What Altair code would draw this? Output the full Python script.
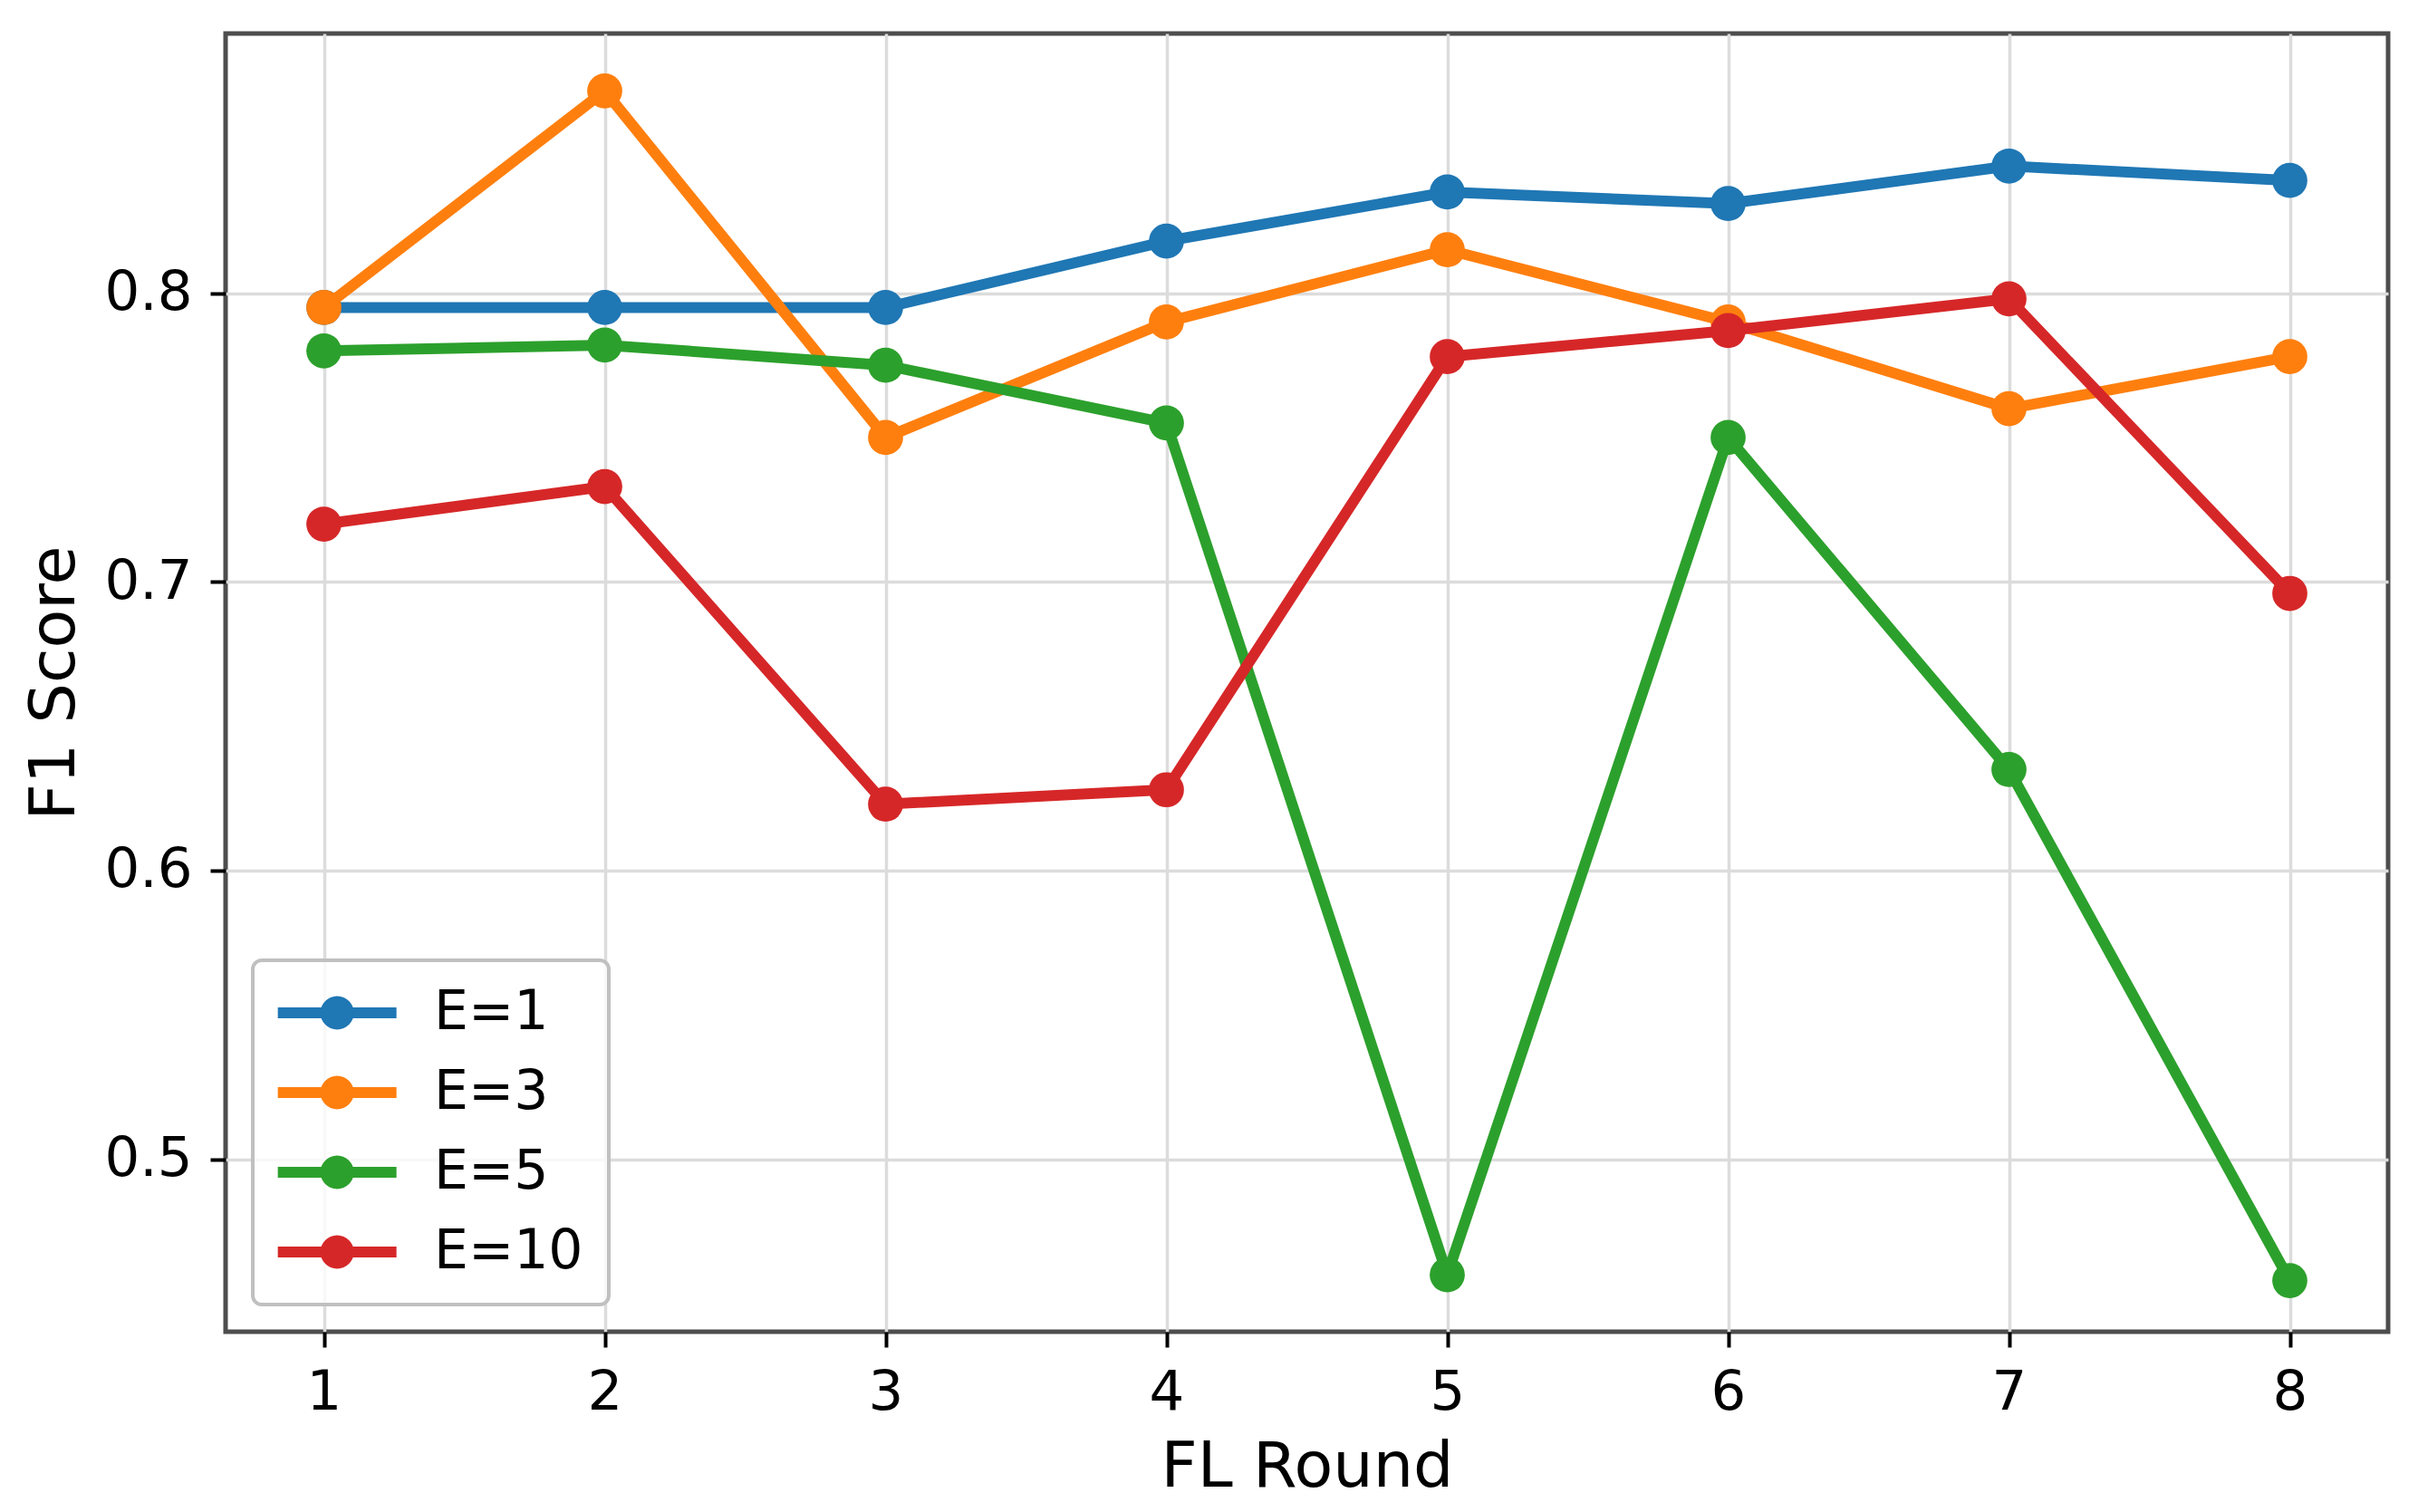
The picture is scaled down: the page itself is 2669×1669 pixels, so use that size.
import altair as alt
import pandas as pd

rounds = [1, 2, 3, 4, 5, 6, 7, 8]
series_names = ["E=1", "E=3", "E=5", "E=10"]
series_colors = ["#1f77b4", "#ff7f0e", "#2ca02c", "#d62728"]

f1_e1 = [0.795, 0.795, 0.795, 0.818, 0.835, 0.831, 0.844, 0.839]
f1_e3 = [0.795, 0.870, 0.750, 0.790, 0.815, 0.790, 0.760, 0.778]
f1_e5 = [0.780, 0.782, 0.775, 0.755, 0.460, 0.750, 0.635, 0.458]
f1_e10 = [0.720, 0.733, 0.623, 0.628, 0.778, 0.787, 0.798, 0.696]

y_ticks = [0.5, 0.6, 0.7, 0.8]

rows = []
for name, values in zip(series_names, [f1_e1, f1_e3, f1_e5, f1_e10]):
    for r, v in zip(rounds, values):
        rows.append({"round": r, "f1": v, "series": name})
df = pd.DataFrame(rows)

x_enc = alt.X("round:Q", title="FL Round",
              scale=alt.Scale(domain=[0.65, 8.35], nice=False, zero=False),
              axis=alt.Axis(values=rounds, format="d"))
y_enc = alt.Y("f1:Q", title="F1 Score",
              scale=alt.Scale(domain=[0.4403, 0.8899], nice=False, zero=False),
              axis=alt.Axis(values=y_ticks, format=".1f"))
color_scale = alt.Scale(domain=series_names, range=series_colors)

# line + marker symbol for the legend (unit = sqrt(size)/2), shifted right
legend_path = ("M-1.64,-0.33H5.44V0.33H-1.64Z "
               "M2.9,0A1,1 0 1,1 0.9,0A1,1 0 1,1 2.9,0Z")

legend = alt.Legend(title=None, orient="bottom-left", offset=30,
                    symbolType=legend_path, symbolSize=1369,
                    symbolStrokeWidth=0, symbolOpacity=1,
                    labelFontSize=60, labelOffset=112, labelLimit=600,
                    labelFont="DejaVu Sans", labelColor="black",
                    rowPadding=28, padding=28,
                    fillColor="rgba(255,255,255,0.8)",
                    strokeColor="#c0c0c0", cornerRadius=10)
color_enc = alt.Color("series:N", scale=color_scale, sort=series_names, legend=legend)

layers = []
for name in series_names:
    base = alt.Chart(df).transform_filter(alt.datum.series == name)
    line = base.mark_line(strokeWidth=12).encode(x=x_enc, y=y_enc, color=color_enc)
    pts = base.mark_point(filled=True, size=1500, opacity=1, shape="circle").encode(
        x=x_enc, y=y_enc, color=color_enc)
    layers += [line, pts]

chart = alt.layer(*layers).properties(
    width=2387, height=1433,
    autosize=alt.AutoSizeParams(type="none"),
    padding={"left": 241, "top": 29, "right": 24, "bottom": 191},
    background="white",
).configure_view(
    stroke="#4d4d4d", strokeWidth=5
).configure_axis(
    domain=False,
    grid=True, gridColor="#dcdcdc", gridWidth=3.5,
    ticks=True, tickColor="black", tickSize=17, tickWidth=4,
    labelFont="DejaVu Sans", labelFontSize=61, labelColor="black", labelPadding=20,
    titleFont="DejaVu Sans", titleFontSize=70, titleFontWeight="normal",
    titleColor="black", titlePadding=18,
).configure_legend(
    strokeWidth=4,
)

chart.save("out.html", embed_options={"renderer": "svg", "actions": False})
